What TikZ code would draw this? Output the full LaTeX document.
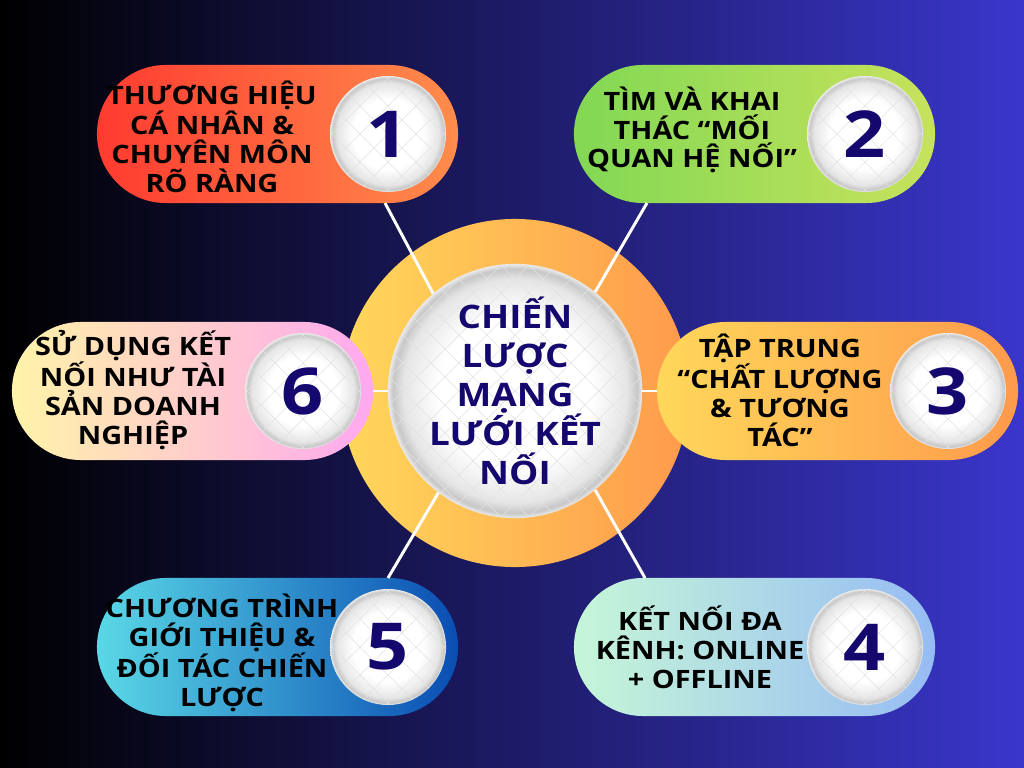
\documentclass[tikz,border=0pt]{standalone}
\usepackage{fontspec}
\setmainfont{Open Sans}[FakeStretch=1.14]
\usetikzlibrary{positioning}

\definecolor{navy}{HTML}{14086E}
\definecolor{bgmid}{HTML}{1B1A5C}
\definecolor{bgright}{HTML}{3A36CC}
\definecolor{ringl}{HTML}{FFD85A}
\definecolor{ringr}{HTML}{FF9A4C}
\definecolor{redl}{HTML}{FF3B30}
\definecolor{redr}{HTML}{FF8C4C}
\definecolor{greenl}{HTML}{82D854}
\definecolor{greenr}{HTML}{C7E25C}
\definecolor{mintl}{HTML}{C6F6D8}
\definecolor{mintr}{HTML}{96BCF4}
\definecolor{cyanl}{HTML}{5AD8E6}
\definecolor{cyanr}{HTML}{0A4DB3}
\definecolor{creaml}{HTML}{FFF3A8}
\definecolor{creamr}{HTML}{FFA8F0}

\pgfdeclareradialshading{ballshade}{\pgfpoint{0bp}{0bp}}{color(0bp)=(white); color(15bp)=(white); color(22bp)=(black!10); color(24bp)=(black!22); color(25bp)=(black!8); color(50bp)=(black!8)}

\tikzset{
  pill/.style={rounded corners=1.72cm, minimum width=9.025cm, minimum height=3.45cm, inner sep=0pt},
  gridline/.style={draw=black!11, line width=0.3pt},
  ball/.style={circle, minimum size=2.9cm, inner sep=0pt, shade, shading=ballshade,
    font=\fontsize{46}{46}\selectfont\bfseries, text=navy,
    path picture={\foreach \k in {-7,...,7} {
      \draw[gridline] ([xshift=\k*0.7cm]path picture bounding box.center) ++(-4.5cm,-4.5cm) -- ++(9cm,9cm);
      \draw[gridline] ([xshift=\k*0.7cm]path picture bounding box.center) ++(-4.5cm,4.5cm) -- ++(9cm,-9cm);}}},
  lbl/.style={align=center, font=\fontsize{18}{20.5}\selectfont\bfseries, text=black},
  link/.style={draw=white, line width=2.1pt},
}

\begin{document}
\begin{tikzpicture}[x=0.025cm, y=-0.025cm]
% background
\shade[left color=black, middle color=bgmid, right color=bgright] (0,0) rectangle (1024,768);

% ring and hub
\node[circle, minimum size=8.7cm, left color=ringl, right color=ringr] (ring) at (515,393) {};
\node[ball, minimum size=6.35cm, align=center, font=\fontsize{23}{27.7}\selectfont\bfseries] (hub) at (515,391)
  {CHIẾN\\LƯỢC\\MẠNG\\LƯỚI KẾT\\NỐI};

% pills
\node[pill, left color=redl, right color=redr] (p1) at (277.5,134) {};
\node[pill, left color=greenl, right color=greenr] (p2) at (754.5,134) {};
\node[pill, left color=ringl, right color=ringr] (p3) at (837.5,391) {};
\node[pill, left color=mintl, right color=mintr] (p4) at (754.5,647) {};
\node[pill, left color=cyanl, right color=cyanr] (p5) at (277.5,647) {};
\node[pill, left color=creaml, right color=creamr] (p6) at (192.5,391) {};

% number balls
\node[ball, left=0.3cm of p1.east] (b1) {1};
\node[ball, left=0.3cm of p2.east] (b2) {2};
\node[ball, left=0.3cm of p3.east] (b3) {3};
\node[ball, left=0.3cm of p4.east] (b4) {4};
\node[ball, left=0.3cm of p5.east] (b5) {5};
\node[ball, left=0.3cm of p6.east] (b6) {6};

% links
\coordinate (e1) at (385,203);
\coordinate (e2) at (647,203);
\coordinate (e4) at (645,578);
\coordinate (e5) at (388,578);
\draw[link] (e1) -- (hub.130);
\draw[link] (e2) -- (hub.51);
\draw[link] (p3.west) -- (hub.east);
\draw[link] (e4) -- (hub.-51);
\draw[link] (e5) -- (hub.-127);
\draw[link] (p6.east) -- (hub.west);

% texts
\node[lbl] (t1) at (212,137) {THƯƠNG HIỆU\\CÁ NHÂN \&\\CHUYÊN MÔN\\RÕ RÀNG};
\node[lbl] (t2) at (692,130) {TÌM VÀ KHAI\\THÁC “MỐI\\QUAN HỆ NỐI”};
\node[lbl] (t3) at (780,390) {TẬP TRUNG\\“CHẤT LƯỢNG\\\& TƯƠNG\\TÁC”};
\node[lbl] (t4) at (700,647) {KẾT NỐI ĐA\\KÊNH: ONLINE\\+ OFFLINE};
\node[lbl] (t5) at (222,653) {CHƯƠNG TRÌNH\\GIỚI THIỆU \&\\ĐỐI TÁC CHIẾN\\LƯỢC};
\node[lbl] (t6) at (133,390) {SỬ DỤNG KẾT\\NỐI NHƯ TÀI\\SẢN DOANH\\NGHIỆP};
\end{tikzpicture}
\end{document}
